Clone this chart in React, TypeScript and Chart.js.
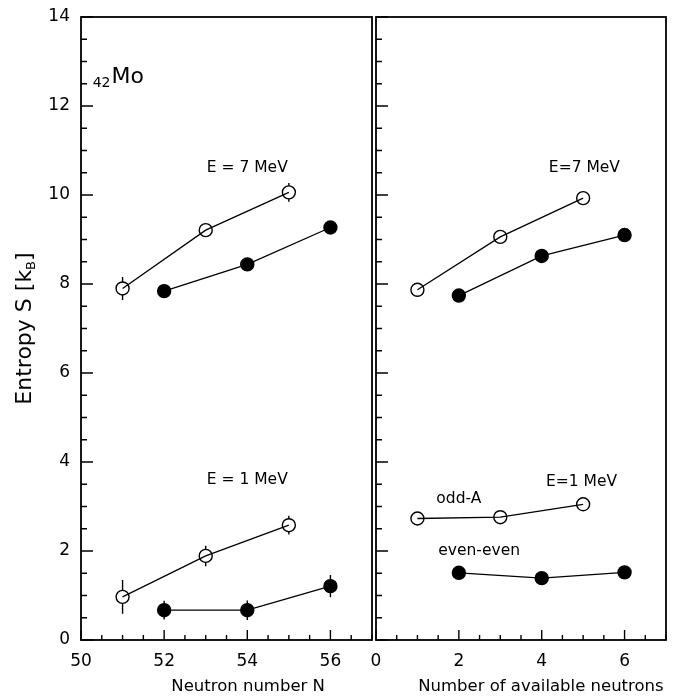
import React, { useEffect, useRef } from "react";
import { Chart, registerables } from "chart.js";

Chart.register(...registerables);

const FONT = '"DejaVu Sans", "Liberation Sans", sans-serif';

// Left panel: entropy of the Mo isotopes versus neutron number N
const oddN = [51, 53, 55];
const evenN = [52, 54, 56];
const oddS7 = [7.9, 9.21, 10.06];
const oddS7Err = [0.26, 0.1, 0.21];
const evenS7 = [7.84, 8.44, 9.27];
const oddS1 = [0.97, 1.89, 2.58];
const oddS1Err = [0.38, 0.23, 0.21];
const evenS1 = [0.67, 0.67, 1.21];
const evenS1Err = [0.21, 0.22, 0.25];

// Right panel: entropy versus number of available neutrons
const oddAvail = [1, 3, 5];
const evenAvail = [2, 4, 6];
const oddAvailS7 = [7.87, 9.06, 9.93];
const evenAvailS7 = [7.74, 8.63, 9.1];
const oddAvailS1 = [2.73, 2.76, 3.05];
const evenAvailS1 = [1.51, 1.39, 1.52];

// Axis ticks
const yTickValues = [0, 2, 4, 6, 8, 10, 12, 14];
const nTickValues = [50, 52, 54, 56];
const availTickValues = [0, 2, 4, 6];
const Y_MIN = 0;
const Y_MAX = 14;

type Note = { text: string; x: number; y: number; size: number };

const leftNotes: Note[] = [
  { text: "E = 7 MeV", x: 54.0, y: 10.6, size: 15.5 },
  { text: "E = 1 MeV", x: 54.0, y: 3.6, size: 15.5 },
];
const rightNotes: Note[] = [
  { text: "E=7 MeV", x: 5.03, y: 10.6, size: 15.5 },
  { text: "E=1 MeV", x: 4.96, y: 3.55, size: 15.5 },
  { text: "odd-A", x: 2.0, y: 3.17, size: 15.5 },
  { text: "even-even", x: 2.49, y: 2.0, size: 15.5 },
];

function series(xs: number[], ys: number[], filled: boolean, errs?: number[]) {
  return {
    data: xs.map((x, i) => ({ x, y: ys[i] })),
    showLine: true,
    borderColor: "#000",
    borderWidth: 1.3,
    pointRadius: 6.5,
    pointBorderWidth: 1.4,
    pointBorderColor: "#000",
    pointBackgroundColor: filled ? "#000" : "rgba(0,0,0,0)",
    tension: 0,
    errors: errs || null,
  };
}

function decorPlugin(opts: {
  notes: Note[];
  xTitle: string;
  xTitleAt: number;
  majorX: number[];
  isLeft: boolean;
}) {
  return {
    id: "panelDecor",
    beforeDatasetsDraw(chart: any) {
      const { ctx } = chart;
      const xs = chart.scales.x;
      const ys = chart.scales.y;
      ctx.save();
      ctx.strokeStyle = "#000";
      ctx.lineWidth = 1.4;
      chart.data.datasets.forEach((ds: any) => {
        if (!ds.errors) return;
        const r = ds.pointRadius;
        ds.data.forEach((p: any, i: number) => {
          const e = ds.errors[i];
          if (!e) return;
          const px = xs.getPixelForValue(p.x);
          const py = ys.getPixelForValue(p.y);
          const top = ys.getPixelForValue(p.y + e);
          const bot = ys.getPixelForValue(p.y - e);
          ctx.beginPath();
          if (top < py - r) {
            ctx.moveTo(px, top);
            ctx.lineTo(px, py - r);
          }
          if (bot > py + r) {
            ctx.moveTo(px, py + r);
            ctx.lineTo(px, bot);
          }
          ctx.stroke();
        });
      });
      ctx.restore();
    },
    afterDraw(chart: any) {
      const { ctx, chartArea } = chart;
      const { left, right, top, bottom } = chartArea;
      const xs = chart.scales.x;
      const ys = chart.scales.y;
      ctx.save();
      ctx.strokeStyle = "#000";
      ctx.fillStyle = "#000";

      // frame
      ctx.lineWidth = 1.8;
      ctx.strokeRect(left, top, right - left, bottom - top);

      // inward ticks on the left edge
      ctx.lineWidth = 1.4;
      ctx.beginPath();
      for (let v = Y_MIN; v <= Y_MAX; v += 0.5) {
        const y = ys.getPixelForValue(v);
        const len = yTickValues.includes(v) ? 12 : 6;
        ctx.moveTo(left, y);
        ctx.lineTo(left + len, y);
      }
      // inward ticks on the bottom edge
      for (let v = xs.min; v <= xs.max; v += 0.5) {
        const x = xs.getPixelForValue(v);
        const len = opts.majorX.includes(v) ? 10 : 5;
        ctx.moveTo(x, bottom);
        ctx.lineTo(x, bottom - len);
      }
      ctx.stroke();

      // annotations
      ctx.textAlign = "center";
      ctx.textBaseline = "middle";
      opts.notes.forEach((n) => {
        ctx.font = `${n.size}px ${FONT}`;
        ctx.fillText(n.text, xs.getPixelForValue(n.x), ys.getPixelForValue(n.y));
      });

      // x-axis title
      ctx.font = `16.5px ${FONT}`;
      ctx.fillText(opts.xTitle, xs.getPixelForValue(opts.xTitleAt), bottom + 47);

      if (opts.isLeft) {
        // element label: 42Mo
        const mx = xs.getPixelForValue(50.28);
        const my = ys.getPixelForValue(12.51);
        ctx.textAlign = "left";
        ctx.textBaseline = "alphabetic";
        ctx.font = `14px ${FONT}`;
        ctx.fillText("42", mx, my + 4);
        const w42 = ctx.measureText("42").width;
        ctx.font = `22px ${FONT}`;
        ctx.fillText("Mo", mx + w42 + 1, my);

        // y-axis title: Entropy S [kB]
        const main = "Entropy S [k";
        const sub = "B";
        const close = "]";
        ctx.font = `22px ${FONT}`;
        const wMain = ctx.measureText(main).width;
        const wClose = ctx.measureText(close).width;
        ctx.font = `13px ${FONT}`;
        const wSub = ctx.measureText(sub).width;
        const total = wMain + wSub + wClose;
        const cy = (top + bottom) / 2;
        ctx.translate(31, cy);
        ctx.rotate(-Math.PI / 2);
        let tx = -total / 2;
        ctx.font = `22px ${FONT}`;
        ctx.fillText(main, tx, 0);
        tx += wMain;
        ctx.font = `13px ${FONT}`;
        ctx.fillText(sub, tx, 4);
        tx += wSub;
        ctx.font = `22px ${FONT}`;
        ctx.fillText(close, tx, 0);
      }
      ctx.restore();
    },
  };
}

function panelConfig(isLeft: boolean): any {
  const datasets = isLeft
    ? [
        series(oddN, oddS7, false, oddS7Err),
        series(evenN, evenS7, true),
        series(oddN, oddS1, false, oddS1Err),
        series(evenN, evenS1, true, evenS1Err),
      ]
    : [
        series(oddAvail, oddAvailS7, false),
        series(evenAvail, evenAvailS7, true),
        series(oddAvail, oddAvailS1, false),
        series(evenAvail, evenAvailS1, true),
      ];
  const xTicks = isLeft ? nTickValues : availTickValues;
  const tickFont = { family: FONT, size: 17 };
  return {
    type: "scatter",
    data: { datasets },
    options: {
      responsive: false,
      animation: false,
      events: [],
      layout: {
        autoPadding: false,
        padding: isLeft
          ? { left: 0, right: 2, top: 17, bottom: 0 }
          : { left: 18, right: 18, top: 17, bottom: 0 },
      },
      plugins: { legend: { display: false }, tooltip: { enabled: false } },
      scales: {
        x: {
          type: "linear",
          min: isLeft ? 50 : 0,
          max: isLeft ? 57 : 7,
          grid: { display: false, drawTicks: false },
          border: { display: false },
          afterBuildTicks: (s: any) => {
            s.ticks = xTicks.map((v) => ({ value: v }));
          },
          afterFit: (s: any) => {
            s.height = 56;
            s.paddingLeft = 0;
            s.paddingRight = 0;
          },
          ticks: {
            color: "#000",
            font: tickFont,
            padding: 11,
            maxRotation: 0,
            autoSkip: false,
          },
        },
        y: {
          type: "linear",
          min: Y_MIN,
          max: Y_MAX,
          display: isLeft,
          grid: { display: false, drawTicks: false },
          border: { display: false },
          afterBuildTicks: (s: any) => {
            s.ticks = yTickValues.map((v) => ({ value: v }));
          },
          afterFit: (s: any) => {
            if (isLeft) {
              s.width = 81;
              s.paddingTop = 0;
              s.paddingBottom = 0;
            }
          },
          ticks: { color: "#000", font: tickFont, padding: 11 },
        },
      },
    },
    plugins: [
      decorPlugin({
        notes: isLeft ? leftNotes : rightNotes,
        xTitle: isLeft ? "Neutron number N" : "Number of available neutrons",
        xTitleAt: isLeft ? 54.02 : 3.98,
        majorX: xTicks,
        isLeft,
      }),
    ],
  };
}

export default function App() {
  const leftRef = useRef<HTMLCanvasElement>(null);
  const rightRef = useRef<HTMLCanvasElement>(null);

  useEffect(() => {
    const left = new Chart(leftRef.current as HTMLCanvasElement, panelConfig(true));
    const right = new Chart(rightRef.current as HTMLCanvasElement, panelConfig(false));
    return () => {
      left.destroy();
      right.destroy();
    };
  }, []);

  return (
    <div
      style={{
        position: "absolute",
        left: 0,
        top: 0,
        width: 684,
        height: 696,
        background: "#fff",
      }}
    >
      <canvas
        ref={leftRef}
        width={374}
        height={696}
        style={{ position: "absolute", left: 0, top: 0 }}
      />
      <canvas
        ref={rightRef}
        width={326}
        height={696}
        style={{ position: "absolute", left: 358, top: 0 }}
      />
    </div>
  );
}
